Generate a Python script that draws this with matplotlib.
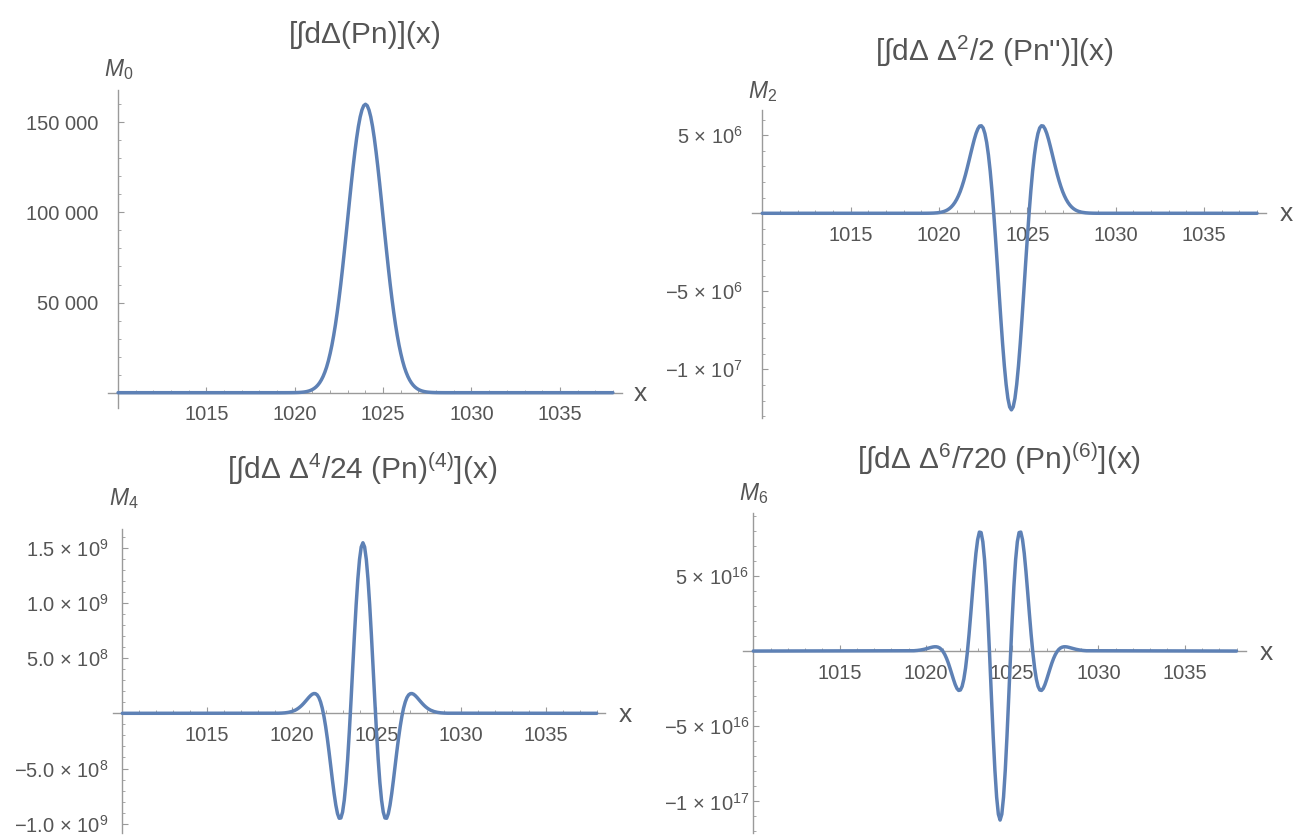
import matplotlib
matplotlib.use("Agg")
import matplotlib.pyplot as plt
from matplotlib.ticker import FixedLocator, MultipleLocator

plt.rcParams['font.family'] = ['Liberation Sans', 'DejaVu Sans']
plt.rcParams['mathtext.fontset'] = 'custom'
plt.rcParams['mathtext.rm'] = 'Liberation Sans'
plt.rcParams['mathtext.it'] = 'Liberation Sans:italic'
plt.rcParams['mathtext.bf'] = 'Liberation Sans:bold'

# ---------------- data ----------------
x_m0 = [1010.0,
        1019.0, 1019.2, 1019.4, 1019.6, 1019.8,
        1020.0, 1020.1, 1020.2, 1020.3, 1020.4, 1020.5, 1020.6, 1020.7, 1020.8, 1020.9,
        1021.0, 1021.1, 1021.2, 1021.3, 1021.4, 1021.5, 1021.6, 1021.7, 1021.8, 1021.9,
        1022.0, 1022.1, 1022.2, 1022.3, 1022.4, 1022.5, 1022.6, 1022.7, 1022.8, 1022.9,
        1023.0, 1023.1, 1023.2, 1023.3, 1023.4, 1023.5, 1023.6, 1023.7, 1023.8, 1023.9,
        1024.0,
        1024.1, 1024.2, 1024.3, 1024.4, 1024.5, 1024.6, 1024.7, 1024.8, 1024.9, 1025.0,
        1025.1, 1025.2, 1025.3, 1025.4, 1025.5, 1025.6, 1025.7, 1025.8, 1025.9, 1026.0,
        1026.1, 1026.2, 1026.3, 1026.4, 1026.5, 1026.6, 1026.7, 1026.8, 1026.9, 1027.0,
        1027.1, 1027.2, 1027.3, 1027.4, 1027.5, 1027.6, 1027.7, 1027.8, 1027.9, 1028.0,
        1028.2, 1028.4, 1028.6, 1028.8, 1029.0,
        1038.0]
m0 = [0,
      1, 2, 4, 10, 24,
      54, 80, 117, 170, 245, 350, 494, 691, 956, 1310,
      1780, 2390, 3170, 4180, 5450, 7030, 8980, 11360, 14200, 17640,
      21700, 26320, 31700, 37720, 44500, 51940, 60000, 68730, 77900, 87370,
      97000, 106720, 116200, 125230, 133600, 141200, 147700, 152960, 156800, 159200,
      160000,
      159200, 156800, 152960, 147700, 141200, 133600, 125230, 116200, 106720, 97000,
      87370, 77900, 68730, 60000, 51940, 44500, 37720, 31700, 26320, 21700,
      17640, 14200, 11360, 8980, 7030, 5450, 4180, 3170, 2390, 1780,
      1310, 956, 691, 494, 350, 245, 170, 117, 80, 54,
      24, 10, 4, 2, 1,
      0]

x_m2 = [1010.0,
        1019.1, 1019.3, 1019.5, 1019.7, 1019.9,
        1020.1, 1020.2, 1020.3, 1020.4, 1020.5, 1020.6, 1020.7, 1020.8, 1020.9, 1021.0,
        1021.1, 1021.2, 1021.3, 1021.4, 1021.5, 1021.6, 1021.7, 1021.8, 1021.9, 1022.0,
        1022.1, 1022.2, 1022.3, 1022.4, 1022.5, 1022.6, 1022.7, 1022.8, 1022.9, 1023.0,
        1023.1, 1023.2, 1023.3, 1023.4, 1023.5, 1023.6, 1023.7, 1023.8, 1023.9, 1024.0,
        1024.1,
        1024.2, 1024.3, 1024.4, 1024.5, 1024.6, 1024.7, 1024.8, 1024.9, 1025.0, 1025.1,
        1025.2, 1025.3, 1025.4, 1025.5, 1025.6, 1025.7, 1025.8, 1025.9, 1026.0, 1026.1,
        1026.2, 1026.3, 1026.4, 1026.5, 1026.6, 1026.7, 1026.8, 1026.9, 1027.0, 1027.1,
        1027.2, 1027.3, 1027.4, 1027.5, 1027.6, 1027.7, 1027.8, 1027.9, 1028.0, 1028.1,
        1028.3, 1028.5, 1028.7, 1028.9, 1029.1,
        1038.0]
m2_millions = [0,
               0.0011, 0.0028, 0.0065, 0.0145, 0.031,
               0.0633, 0.0892, 0.124, 0.170, 0.231, 0.310, 0.411, 0.538, 0.696, 0.888,
               1.12, 1.39, 1.71, 2.07, 2.47, 2.91, 3.37, 3.84, 4.30, 4.74,
               5.12, 5.41, 5.59, 5.61, 5.47, 5.11, 4.54, 3.73, 2.70, 1.445,
               0.0, -1.60, -3.29, -5.03, -6.74, -8.34, -9.77, -10.96, -11.86, -12.41,
               -12.6,
               -12.41, -11.86, -10.96, -9.77, -8.34, -6.74, -5.03, -3.29, -1.60, 0.0,
               1.445, 2.70, 3.73, 4.54, 5.11, 5.47, 5.61, 5.59, 5.41, 5.12,
               4.74, 4.30, 3.84, 3.37, 2.91, 2.47, 2.07, 1.71, 1.39, 1.12,
               0.888, 0.696, 0.538, 0.411, 0.310, 0.231, 0.170, 0.124, 0.0892, 0.0633,
               0.031, 0.0145, 0.0065, 0.0028, 0.0011,
               0]

x_m4 = [1010.0,
        1019.2, 1019.4, 1019.6, 1019.8, 1020.0,
        1020.2, 1020.3, 1020.4, 1020.5, 1020.6, 1020.7, 1020.8, 1020.9, 1021.0, 1021.1,
        1021.2, 1021.3, 1021.4, 1021.5, 1021.6, 1021.7, 1021.8, 1021.9, 1022.0, 1022.1,
        1022.2, 1022.3, 1022.4, 1022.5, 1022.6, 1022.7, 1022.8, 1022.9, 1023.0, 1023.1,
        1023.2, 1023.3, 1023.4, 1023.5, 1023.6, 1023.7, 1023.8, 1023.9, 1024.0, 1024.1,
        1024.2,
        1024.3, 1024.4, 1024.5, 1024.6, 1024.7, 1024.8, 1024.9, 1025.0, 1025.1, 1025.2,
        1025.3, 1025.4, 1025.5, 1025.6, 1025.7, 1025.8, 1025.9, 1026.0, 1026.1, 1026.2,
        1026.3, 1026.4, 1026.5, 1026.6, 1026.7, 1026.8, 1026.9, 1027.0, 1027.1, 1027.2,
        1027.3, 1027.4, 1027.5, 1027.6, 1027.7, 1027.8, 1027.9, 1028.0, 1028.1, 1028.2,
        1028.4, 1028.6, 1028.8, 1029.0, 1029.2,
        1038.0]
m4_1e8 = [0,
          0.0092, 0.0203, 0.0424, 0.0845, 0.159,
          0.281, 0.367, 0.471, 0.594, 0.736, 0.896, 1.07, 1.25, 1.43, 1.59,
          1.72, 1.79, 1.78, 1.67, 1.43, 1.03, 0.468, -0.276, -1.20, -2.28,
          -3.49, -4.77, -6.06, -7.27, -8.31, -9.09, -9.51, -9.48, -8.94, -7.86,
          -6.25, -4.14, -1.61, 1.21, 4.17, 7.10, 9.82, 12.15, 13.94, 15.07,
          15.45,
          15.07, 13.94, 12.15, 9.82, 7.10, 4.17, 1.21, -1.61, -4.14, -6.25,
          -7.86, -8.94, -9.48, -9.51, -9.09, -8.31, -7.27, -6.06, -4.77, -3.49,
          -2.28, -1.20, -0.276, 0.468, 1.03, 1.43, 1.67, 1.78, 1.79, 1.72,
          1.59, 1.43, 1.25, 1.07, 0.896, 0.736, 0.594, 0.471, 0.367, 0.281,
          0.159, 0.0845, 0.0424, 0.0203, 0.0092,
          0]

x_m6 = [1010.0,
        1019.3, 1019.5, 1019.7, 1019.9, 1020.1,
        1020.3, 1020.4, 1020.5, 1020.6, 1020.7, 1020.8, 1020.9, 1021.0, 1021.1, 1021.2,
        1021.3, 1021.4, 1021.5, 1021.6, 1021.7, 1021.8, 1021.9, 1022.0, 1022.1, 1022.2,
        1022.3, 1022.4, 1022.5, 1022.6, 1022.7, 1022.8, 1022.9, 1023.0, 1023.1, 1023.2,
        1023.3, 1023.4, 1023.5, 1023.6, 1023.7, 1023.8, 1023.9, 1024.0, 1024.1, 1024.2,
        1024.3,
        1024.4, 1024.5, 1024.6, 1024.7, 1024.8, 1024.9, 1025.0, 1025.1, 1025.2, 1025.3,
        1025.4, 1025.5, 1025.6, 1025.7, 1025.8, 1025.9, 1026.0, 1026.1, 1026.2, 1026.3,
        1026.4, 1026.5, 1026.6, 1026.7, 1026.8, 1026.9, 1027.0, 1027.1, 1027.2, 1027.3,
        1027.4, 1027.5, 1027.6, 1027.7, 1027.8, 1027.9, 1028.0, 1028.1, 1028.2, 1028.3,
        1028.5, 1028.7, 1028.9, 1029.1, 1029.3,
        1038.0]
m6_1e16 = [0,
           0.0206, 0.0395, 0.0703, 0.117, 0.177,
           0.241, 0.268, 0.284, 0.284, 0.259, 0.203, 0.105, -0.040, -0.239, -0.493,
           -0.799, -1.15, -1.52, -1.89, -2.23, -2.49, -2.62, -2.59, -2.35, -1.86,
           -1.12, -0.121, 1.09, 2.46, 3.89, 5.28, 6.50, 7.41, 7.91, 7.88,
           7.27, 6.07, 4.31, 2.09, -0.436, -3.09, -5.66, -7.93, -9.71, -10.85,
           -11.24,
           -10.85, -9.71, -7.93, -5.66, -3.09, -0.436, 2.09, 4.31, 6.07, 7.27,
           7.88, 7.91, 7.41, 6.50, 5.28, 3.89, 2.46, 1.09, -0.121, -1.12,
           -1.86, -2.35, -2.59, -2.62, -2.49, -2.23, -1.89, -1.52, -1.15, -0.799,
           -0.493, -0.239, -0.040, 0.105, 0.203, 0.259, 0.284, 0.284, 0.268, 0.241,
           0.177, 0.117, 0.0703, 0.0395, 0.0206,
           0]

x_ticks = [1015, 1020, 1025, 1030, 1035]
x_ticklabels = ['1015', '1020', '1025', '1030', '1035']

titles = ["[∫dΔ(Pn)](x)",
          "[∫dΔ Δ$^{2}$/2 (Pn'')](x)",
          "[∫dΔ Δ$^{4}$/24 (Pn)$^{(4)}$](x)",
          "[∫dΔ Δ$^{6}$/720 (Pn)$^{(6)}$](x)"]
ylabels = [r'$M_{0}$', r'$M_{2}$', r'$M_{4}$', r'$M_{6}$']

y_ticks_0 = [50000, 100000, 150000]
y_labels_0 = ['50 000', '100 000', '150 000']
y_ticks_2 = [5e6, -5e6, -1e7]
y_labels_2 = ['5 × 10$^{6}$', '\u22125 × 10$^{6}$', '\u22121 × 10$^{7}$']
y_ticks_4 = [1.5e9, 1.0e9, 5.0e8, -5.0e8, -1.0e9]
y_labels_4 = ['1.5 × 10$^{9}$', '1.0 × 10$^{9}$', '5.0 × 10$^{8}$',
              '\u22125.0 × 10$^{8}$', '\u22121.0 × 10$^{9}$']
y_ticks_6 = [5e16, -5e16, -1e17]
y_labels_6 = ['5 × 10$^{16}$', '\u22125 × 10$^{16}$', '\u22121 × 10$^{17}$']

# ---------------- layout / style ----------------
W, H = 1304, 835
LINE = '#5E81B5'
AXC = '#9a9a9a'
TXT = '#555555'

fig = plt.figure(figsize=(W / 100, H / 100), dpi=100)
fig.patch.set_facecolor('white')

panels = [
    dict(x=x_m0, y=[v for v in m0], box=(108, 621.7, 90, 408), xlim=(1009.43, 1038.5),
         ylim=(-8490, 167900), yt=y_ticks_0, yl=y_labels_0, ymin=10000, ypad=14,
         title=titles[0], tpos=(365, 35), lab=ylabels[0], lpos=(119, 70), xpos=(640, 394)),
    dict(x=x_m2, y=[v * 1e6 for v in m2_millions], box=(752, 1265.7, 110, 418),
         xlim=(1009.42, 1038.49), ylim=(-1.312e7, 6.62e6),
         yt=y_ticks_2, yl=y_labels_2, ymin=1e6, ypad=14,
         title=titles[1], tpos=(994, 51), lab=ylabels[1], lpos=(763, 92), xpos=(1286, 214)),
    dict(x=x_m4, y=[v * 1e8 for v in m4_1e8], box=(112.7, 605, 529.3, 833.3),
         xlim=(1009.43, 1038.49), ylim=(-1.087e9, 1.667e9),
         yt=y_ticks_4, yl=y_labels_4, ymin=1e8, ypad=10,
         title=titles[2], tpos=(362, 468), lab=ylabels[2], lpos=(124, 499), xpos=(625, 715)),
    dict(x=x_m6, y=[v * 1e16 for v in m6_1e16], box=(743.3, 1246, 513.3, 833.3),
         xlim=(1009.42, 1038.55), ylim=(-1.212e17, 9.16e16),
         yt=y_ticks_6, yl=y_labels_6, ymin=1e16, ypad=3,
         title=titles[3], tpos=(999, 458), lab=ylabels[3], lpos=(754, 494), xpos=(1266, 653)),
]

for p in panels:
    l, r, t, b = p['box']
    ax = fig.add_axes([l / W, 1 - b / H, (r - l) / W, (b - t) / H])
    ax.set_facecolor('none')
    ax.plot(p['x'], p['y'], color=LINE, lw=2.5, solid_joinstyle='round',
            solid_capstyle='round', clip_on=False, zorder=3)
    ax.set_xlim(*p['xlim'])
    ax.set_ylim(*p['ylim'])
    for s in ('top', 'right'):
        ax.spines[s].set_visible(False)
    ax.spines['left'].set_position(('data', 1010))
    ax.spines['bottom'].set_position(('data', 0))
    for s in ('left', 'bottom'):
        ax.spines[s].set_color(AXC)
        ax.spines[s].set_linewidth(1.0)
    ax.xaxis.set_major_locator(FixedLocator(x_ticks))
    ax.set_xticklabels(x_ticklabels)
    ax.xaxis.set_minor_locator(MultipleLocator(1))
    ax.yaxis.set_major_locator(FixedLocator(p['yt']))
    ax.set_yticklabels(p['yl'])
    ax.yaxis.set_minor_locator(MultipleLocator(p['ymin']))
    ax.tick_params(which='major', direction='in', length=4.5, width=0.8, color=AXC,
                   labelsize=14.5, labelcolor=TXT)
    ax.tick_params(which='minor', direction='in', length=2.5, width=0.6, color=AXC)
    ax.tick_params(axis='x', which='major', pad=9)
    ax.tick_params(axis='y', which='major', pad=p['ypad'])
    fig.text(p['tpos'][0] / W, 1 - p['tpos'][1] / H, p['title'], ha='center', va='center',
             fontsize=21.5, color=TXT)
    fig.text(p['lpos'][0] / W, 1 - p['lpos'][1] / H, p['lab'], ha='center', va='center',
             fontsize=16.5, color=TXT)
    fig.text(p['xpos'][0] / W, 1 - p['xpos'][1] / H, 'x', ha='center', va='center',
             fontsize=19, color=TXT)

fig.savefig('out.png', dpi=100, facecolor='white')
